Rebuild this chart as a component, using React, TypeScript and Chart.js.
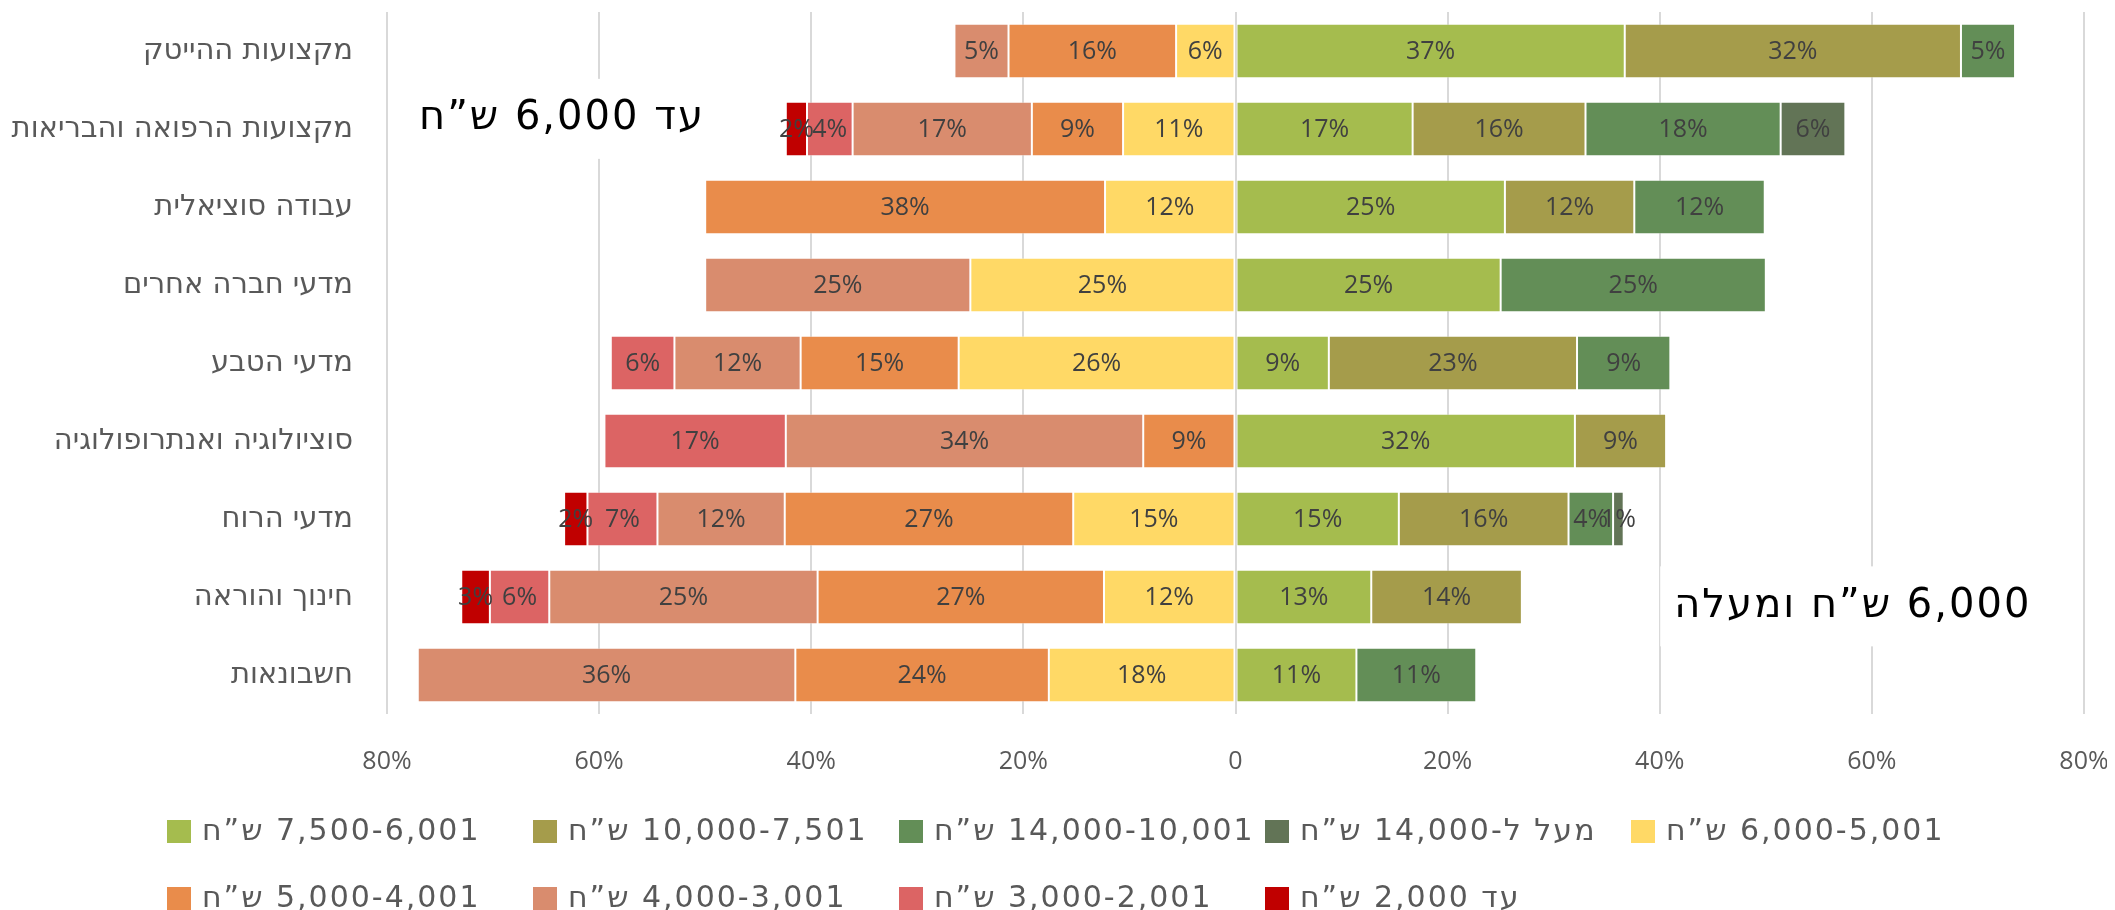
import React, { useEffect, useRef } from 'react';
import { Chart, registerables } from 'chart.js';

Chart.register(...registerables);

// ---------- DATA ----------
const categories = [
  'מקצועות ההייטק',
  'מקצועות הרפואה והבריאות',
  'עבודה סוציאלית',
  'מדעי חברה אחרים',
  'מדעי הטבע',
  'סוציולוגיה ואנתרופולוגיה',
  'מדעי הרוח',
  'חינוך והוראה',
  'חשבונאות',
];

// salary bands above 6,000 (drawn to the right)
const band6001to7500 = [36.7, 16.7, 25.4, 25.0, 8.8, 32.0, 15.4, 12.8, 11.4];
const band7501to10000 = [31.7, 16.3, 12.2, 0, 23.4, 8.6, 16.0, 14.2, 0];
const band10001to14000 = [5.1, 18.4, 12.3, 25.0, 8.8, 0, 4.2, 0, 11.3];
const bandOver14000 = [0, 6.1, 0, 0, 0, 0, 1.0, 0, 0];

// salary bands up to 6,000 (drawn to the left)
const band5001to6000 = [5.6, 10.6, 12.3, 25.0, 26.1, 0, 15.3, 12.4, 17.6];
const band4001to5000 = [15.8, 8.6, 37.7, 0, 14.9, 8.7, 27.2, 27.0, 23.9];
const band3001to4000 = [5.1, 16.9, 0, 25.0, 11.9, 33.7, 12.0, 25.3, 35.6];
const band2001to3000 = [0, 4.3, 0, 0, 6.0, 17.1, 6.6, 5.6, 0];
const bandUpTo2000 = [0, 2.0, 0, 0, 0, 0, 2.2, 2.7, 0];

const seriesNames = [
  '7,500-6,001 ש”ח',
  '10,000-7,501 ש”ח',
  '14,000-10,001 ש”ח',
  'מעל ל-14,000 ש”ח',
  '6,000-5,001 ש”ח',
  '5,000-4,001 ש”ח',
  '4,000-3,001 ש”ח',
  '3,000-2,001 ש”ח',
  'עד 2,000 ש”ח',
];

const seriesColors = [
  '#A5BC4E',
  '#A59C4B',
  '#638E57',
  '#627456',
  '#FFD966',
  '#E98C4B',
  '#D98C6E',
  '#DC6464',
  '#C00000',
];

const xTickValues = [-80, -60, -40, -20, 0, 20, 40, 60, 80];

const notes = [
  { text: 'עד 6,000 ש”ח', x: -63.5, y: 0.87 },
  { text: '6,000 ש”ח ומעלה', x: 58.2, y: 7.12 },
];

// ---------- STYLE ----------
const LABEL_FONT = '"Open Sans", "DejaVu Sans", sans-serif';
const DV_FONT = '"DejaVu Sans", "Open Sans", sans-serif';
const GREY = '#595959';

const annotationPlugin = {
  id: 'notes',
  beforeDatasetsDraw(chart: any) {
    const { ctx, scales } = chart;
    ctx.save();
    ctx.font = `40px ${DV_FONT}`;
    ctx.direction = 'rtl';
    try { (ctx as any).letterSpacing = '2px'; } catch (e) {}
    ctx.textAlign = 'center';
    ctx.textBaseline = 'middle';
    for (const n of notes) {
      const cx = scales.x.getPixelForValue(n.x);
      const cy = scales.y.getPixelForValue(n.y);
      const w = ctx.measureText(n.text).width;
      ctx.fillStyle = '#FFFFFF';
      ctx.fillRect(cx - w / 2 - 14, cy - 40, w + 28, 80);
      ctx.fillStyle = '#000000';
      ctx.fillText(n.text, cx, cy);
    }
    ctx.restore();
  },
};

const valueLabelPlugin = {
  id: 'valueLabels',
  afterDatasetsDraw(chart: any) {
    const { ctx } = chart;
    ctx.save();
    ctx.font = `25px ${LABEL_FONT}`;
    ctx.fillStyle = '#404040';
    ctx.textAlign = 'center';
    ctx.textBaseline = 'middle';
    chart.data.datasets.forEach((ds: any, i: number) => {
      const meta = chart.getDatasetMeta(i);
      meta.data.forEach((el: any, j: number) => {
        const v = ds.data[j];
        if (!v) return;
        const p = el.getProps(['x', 'y', 'base'], true);
        ctx.fillText(`${Math.round(Math.abs(v))}%`, (p.x + p.base) / 2, p.y + 1);
      });
    });
    ctx.restore();
  },
};

const LEGEND_LEFT = 159;
const LEGEND_COL = 366;
const LEGEND_ROWS = [823, 890];
const LEGEND_PER_ROW = 5;

const gridLegendPlugin = {
  id: 'gridLegend',
  afterDraw(chart: any) {
    const { ctx } = chart;
    ctx.save();
    ctx.font = `30px ${DV_FONT}`;
    ctx.direction = 'rtl';
    try { (ctx as any).letterSpacing = '2px'; } catch (e) {}
    ctx.textAlign = 'left';
    ctx.textBaseline = 'middle';
    chart.data.datasets.forEach((ds: any, i: number) => {
      const col = i % LEGEND_PER_ROW;
      const row = Math.floor(i / LEGEND_PER_ROW);
      const x = LEGEND_LEFT + col * LEGEND_COL;
      const y = LEGEND_ROWS[row];
      ctx.fillStyle = ds.backgroundColor;
      ctx.fillRect(x, y - 11, 24, 23);
      ctx.fillStyle = GREY;
      ctx.fillText(ds.label, x + 35, y + 1);
    });
    ctx.restore();
  },
};

export default function App() {
  const ref = useRef<HTMLCanvasElement>(null);

  useEffect(() => {
    document.documentElement.style.overflow = 'hidden';
    const positive = [band6001to7500, band7501to10000, band10001to14000, bandOver14000];
    const negative = [band5001to6000, band4001to5000, band3001to4000, band2001to3000, bandUpTo2000];
    const series = [...positive, ...negative.map((arr) => arr.map((v) => -v))];
    const datasets = series.map((data, i) => ({
      label: seriesNames[i],
      data,
      backgroundColor: seriesColors[i],
      borderColor: 'rgba(255,255,255,0.35)',
      borderWidth: 1,
      borderSkipped: false,
      categoryPercentage: 1,
      barPercentage: 0.7,
    }));

    const chart = new Chart(ref.current as HTMLCanvasElement, {
      type: 'bar',
      data: { labels: categories, datasets },
      options: {
        indexAxis: 'y',
        animation: false,
        responsive: false,
        devicePixelRatio: 1,
        layout: { padding: { top: 4, right: 23, bottom: 100, left: 0 } },
        scales: {
          x: {
            type: 'linear',
            stacked: true,
            min: -80,
            max: 80,
            afterBuildTicks: (s: any) => {
              s.ticks = xTickValues.map((value) => ({ value }));
            },
            afterFit: (s: any) => {
              s.paddingLeft = 0;
              s.paddingRight = 0;
            },
            ticks: {
              callback: (v: any) => (Number(v) === 0 ? '0' : `${Math.abs(Number(v))}%`),
              font: { family: LABEL_FONT, size: 25 },
              color: GREY,
              padding: 33,
              maxRotation: 0,
            },
            grid: { color: '#D9D9D9', lineWidth: 2, drawTicks: false },
            border: { display: false },
          },
          y: {
            type: 'category',
            stacked: true,
            grid: { display: false, drawTicks: false },
            border: { display: false },
            ticks: {
              font: { family: DV_FONT, size: 29 },
              color: GREY,
              padding: 34,
            },
            afterFit: (s: any) => {
              s.width = 379;
              s.paddingTop = 0;
              s.paddingBottom = 0;
            },
          },
        },
        plugins: {
          legend: { display: false },
          tooltip: { enabled: false },
        },
      },
      plugins: [annotationPlugin, valueLabelPlugin, gridLegendPlugin],
    });
    return () => chart.destroy();
  }, []);

  return (
    <div style={{ width: 2099, height: 902 }}>
      <canvas ref={ref} width={2099} height={902} style={{ display: 'block' }} />
    </div>
  );
}
